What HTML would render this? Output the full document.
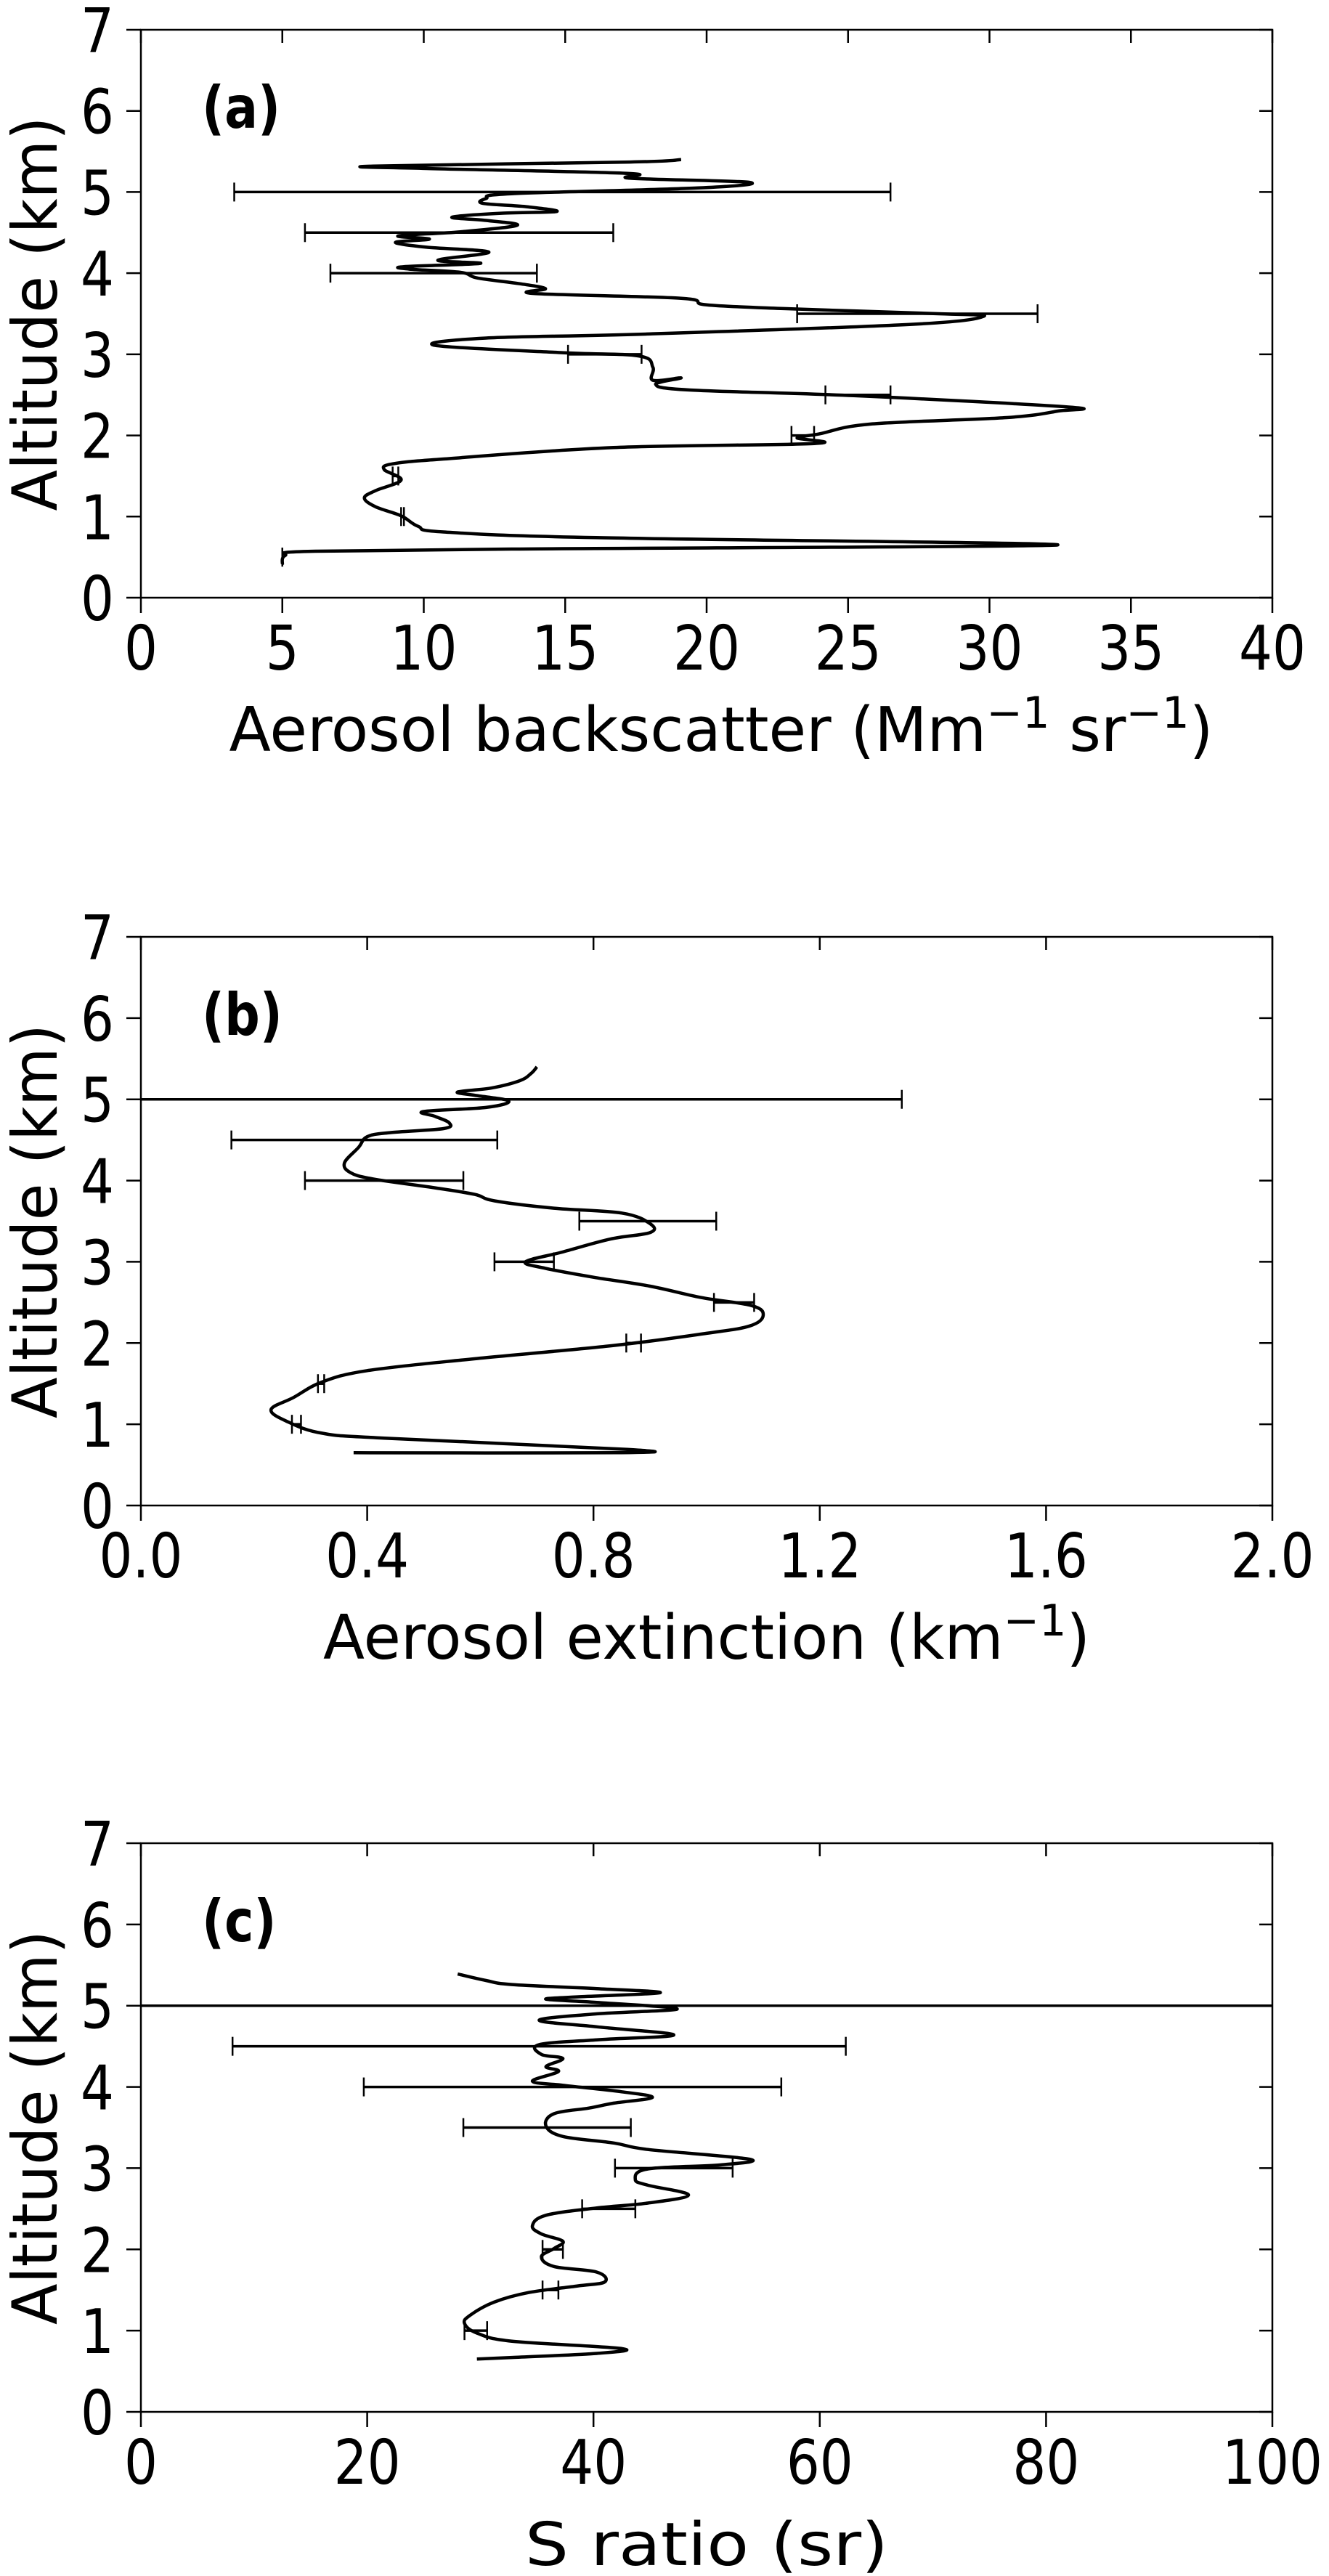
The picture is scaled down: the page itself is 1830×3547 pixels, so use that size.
<!DOCTYPE html>
<html><head><meta charset="utf-8"><style>
html,body{margin:0;padding:0;background:#fff}
svg{display:block}
text{font-family:"DejaVu Sans","Liberation Sans",sans-serif;fill:#000}
</style></head><body>
<svg id="fig" width="1830" height="3547" viewBox="0 0 1830 3547" xmlns="http://www.w3.org/2000/svg"></svg>
<script>
// ---- Panel (a) data: backscatter vs altitude ----
const aX = [19.1,17.3,8.2,10.1,17.2,17.3,21.5,19.7,13.1,12.2,12.1,13.6,14.7,12.8,11.0,12.2,13.3,11.3,9.1,10.2,9.0,10.1,12.3,10.5,12.0,9.3,9.5,11.3,11.9,13.4,14.3,13.9,19.1,20.0,23.0,28.2,29.8,27.3,17.9,12.2,10.4,14.9,17.6,18.1,18.1,19.1,18.2,19.4,25.2,32.8,32.4,30.6,25.8,24.0,23.2,23.8,16.7,10.7,8.9,8.6,9.2,8.3,7.9,8.3,9.2,9.8,10.7,16.1,32.4,13.1,5.9,5.1,5.0];
const aAlt = [5.40,5.37,5.32,5.29,5.23,5.17,5.12,5.05,4.98,4.92,4.86,4.82,4.76,4.74,4.69,4.65,4.59,4.51,4.46,4.42,4.38,4.32,4.26,4.16,4.12,4.08,4.05,4.01,3.94,3.87,3.81,3.75,3.69,3.61,3.56,3.50,3.47,3.37,3.25,3.20,3.11,3.02,2.98,2.84,2.68,2.71,2.63,2.56,2.49,2.35,2.30,2.22,2.14,2.02,1.97,1.90,1.85,1.71,1.65,1.58,1.45,1.32,1.23,1.12,1.01,0.88,0.81,0.74,0.65,0.60,0.57,0.52,0.41];
const aErrAlt = [5.0,4.5,4.0,3.5,3.0,2.5,2.0,1.5,1.0,0.5];
const aErrLo = [3.3,5.8,6.7,23.2,15.1,24.2,23.0,8.9,9.2,5.0];
const aErrHi = [26.5,16.7,14.0,31.7,17.7,26.5,23.8,9.1,9.3,5.0];
const aTicks = ["0","5","10","15","20","25","30","35","40"];
// ---- Panel (b) data: extinction ----
const bX = [0.70,0.69,0.67,0.62,0.56,0.59,0.65,0.61,0.50,0.52,0.545,0.535,0.44,0.40,0.385,0.36,0.37,0.41,0.52,0.59,0.625,0.73,0.85,0.90,0.90,0.83,0.745,0.68,0.715,0.80,0.90,0.99,1.08,1.10,1.076,1.0,0.836,0.58,0.40,0.32,0.27,0.23,0.26,0.32,0.43,0.86,0.84,0.376];
const bAlt = [5.40,5.32,5.23,5.14,5.09,5.05,4.98,4.90,4.85,4.79,4.71,4.64,4.59,4.54,4.41,4.22,4.10,4.02,3.91,3.83,3.75,3.66,3.60,3.47,3.36,3.28,3.12,3.00,2.92,2.81,2.70,2.56,2.46,2.34,2.21,2.12,1.97,1.80,1.66,1.52,1.33,1.18,1.03,0.89,0.83,0.69,0.65,0.65];
const bErrAlt = [5.0,4.5,4.0,3.5,3.0,2.5,2.0,1.5,1.0];
const bErrLo = [-0.1,0.16,0.29,0.775,0.625,1.013,0.858,0.313,0.267];
const bErrHi = [1.345,0.63,0.57,1.017,0.73,1.084,0.884,0.324,0.283];
const bTicks = ["0.0","0.4","0.8","1.2","1.6","2.0"];
// ---- Panel (c) data: S ratio ----
const cX = [28.0,30.5,32.8,40.3,45.9,38.8,35.8,40.3,47.4,40.3,35.2,40.3,47.1,40.3,35.2,35.4,37.3,35.8,36.9,34.6,37.3,42.5,45.2,41.8,39.6,36.5,35.8,37.3,41.8,44.8,53.8,51.2,44.8,43.7,44.8,48.4,44.8,40.3,35.8,34.6,35.4,37.3,36.5,35.4,36.5,40.3,41.0,38.6,34.3,31.2,29.1,28.6,29.7,32.8,42.5,40.3,32.8,29.7];
const cAlt = [5.39,5.31,5.26,5.21,5.16,5.11,5.08,5.04,4.96,4.90,4.82,4.74,4.64,4.58,4.52,4.40,4.35,4.25,4.19,4.07,4.02,3.94,3.87,3.80,3.74,3.67,3.52,3.39,3.31,3.23,3.11,3.04,2.99,2.86,2.79,2.67,2.57,2.51,2.42,2.29,2.19,2.10,2.01,1.91,1.79,1.72,1.60,1.55,1.47,1.35,1.19,1.09,0.97,0.87,0.78,0.72,0.67,0.65];
const cErrAlt = [5.0,4.5,4.0,3.5,3.0,2.5,2.0,1.5,1.0];
const cErrLo = [-5,8.1,19.7,28.5,41.9,39.0,35.5,35.5,28.6];
const cErrHi = [105,62.3,56.6,43.3,52.3,43.7,37.3,36.9,30.6];
const cTicks = ["0","20","40","60","80","100"];
const yTicks = ["0","1","2","3","4","5","6","7"];

const NS="http://www.w3.org/2000/svg";
const fig=document.getElementById('fig');
function mk(tag,attrs,parent){const e=document.createElementNS(NS,tag);for(const k in attrs)e.setAttribute(k,attrs[k]);(parent||fig).appendChild(e);return e;}
const L=194,R=1752;
function smooth(pts){
  let d='M'+pts[0][0].toFixed(1)+','+pts[0][1].toFixed(1);
  const t=0.35;
  for(let i=0;i<pts.length-1;i++){
    const p0=pts[i-1]||pts[i],p1=pts[i],p2=pts[i+1],p3=pts[i+2]||p2;
    const c1=[p1[0]+(p2[0]-p0[0])*t/2,p1[1]+(p2[1]-p0[1])*t/2];
    const c2=[p2[0]-(p3[0]-p1[0])*t/2,p2[1]-(p3[1]-p1[1])*t/2];
    d+=` C${c1[0].toFixed(1)},${c1[1].toFixed(1)} ${c2[0].toFixed(1)},${c2[1].toFixed(1)} ${p2[0].toFixed(1)},${p2[1].toFixed(1)}`;
  }
  return d;
}
function panel(id,top,bottom,xmin,xmax,ticks,xs,alts,eAlt,eLo,eHi,label,xlabelParts,xlabelLen,xlabelSize){
  const g=mk('g',{});
  
  
  const sx=v=>L+(v-xmin)/(xmax-xmin)*(R-L);
  const sy=v=>bottom-v/7*(bottom-top);
  const cid='clip'+id;
  const cp=mk('clipPath',{id:cid},g);mk('rect',{x:L,y:top,width:R-L,height:bottom-top},cp);
  yTicks.forEach((t,i)=>{
    const y=sy(i);
    const tk=mk('line',{x1:L-20,y1:y,x2:L,y2:y,stroke:'#000','stroke-width':2.5},g);
    
    
    mk('line',{x1:R-18,y1:y,x2:R,y2:y,stroke:'#000','stroke-width':2.5},g);
    const tx=mk('text',{transform:`translate(157,${y+31}) scale(0.85,1)`,'font-size':85,'text-anchor':'end'},g);
    tx.textContent=t;
    
    
  });
  ticks.forEach((t,i)=>{
    const v=xmin+i*(xmax-xmin)/(ticks.length-1);
    const x=sx(v);
    const tk=mk('line',{x1:x,y1:bottom,x2:x,y2:bottom+21,stroke:'#000','stroke-width':2.5},g);
    
    
    mk('line',{x1:x,y1:top,x2:x,y2:top+18,stroke:'#000','stroke-width':2.5},g);
    const tx=mk('text',{transform:`translate(${x},${bottom+99}) scale(0.85,1)`,'font-size':85,'text-anchor':'middle'},g);
    tx.textContent=t;
    
    
  });
  const fr=mk('rect',{x:L,y:top,width:R-L,height:bottom-top,fill:'none',stroke:'#000','stroke-width':2.5},g);
  
  
  const cg=mk('g',{'clip-path':`url(#${cid})`},g);
  const pts=xs.map((v,i)=>[sx(v),sy(alts[i])]);
  const p=mk('path',{d:smooth(pts),fill:'none',stroke:'#000','stroke-width':4.5,'stroke-linejoin':'round'},cg);
  
  
  eAlt.forEach((a,i)=>{
    const y=sy(a),x1=sx(eLo[i]),x2=sx(eHi[i]);
    const eg=mk('g',{},cg);
    
    
    mk('line',{x1:x1,y1:y,x2:x2,y2:y,stroke:'#000','stroke-width':3.5},eg);
    mk('line',{x1:x1,y1:y-13,x2:x1,y2:y+13,stroke:'#000','stroke-width':2.5},eg);
    mk('line',{x1:x2,y1:y-13,x2:x2,y2:y+13,stroke:'#000','stroke-width':2.5},eg);
  });
  const pl=mk('text',{transform:`translate(278,${top+135}) scale(0.85,1)`,'font-size':80,'font-weight':'bold'},g);
  pl.textContent=label;
  
  
  const yl=mk('text',{transform:`translate(78,${(top+bottom)/2}) rotate(-90)`,'font-size':86,'text-anchor':'middle',textLength:543,lengthAdjust:'spacingAndGlyphs'},g);
  yl.textContent='Altitude (km)';
  
  
  const xl=mk('text',{x:(L+R)/2+(id==='a'?20:0),y:bottom+211,'font-size':xlabelSize,'text-anchor':'middle',textLength:xlabelLen,lengthAdjust:'spacingAndGlyphs'},g);
  
  
  xlabelParts.forEach(pt=>{const ts=mk('tspan',pt.sup?{'font-size':60,dy:pt.dy}:(pt.dy?{dy:pt.dy}:{}),xl);ts.textContent=pt.t;});
}
panel('a',41,823,0,40,aTicks,aX,aAlt,aErrAlt,aErrLo,aErrHi,'(a)',
 [{t:'Aerosol backscatter (Mm'},{t:'−1',sup:1,dy:-32},{t:' sr',dy:32},{t:'−1',sup:1,dy:-32},{t:')',dy:32}],1355,85);
panel('b',1290,2073,0,2,bTicks,bX,bAlt,bErrAlt,bErrLo,bErrHi,'(b)',
 [{t:'Aerosol extinction (km'},{t:'−1',sup:1,dy:-32},{t:')',dy:32}],1056,85);
panel('c',2538,3321,0,100,cTicks,cX,cAlt,cErrAlt,cErrLo,cErrHi,'(c)',
 [{t:'S ratio (sr)'}],500,82);
</script>
</body></html>
